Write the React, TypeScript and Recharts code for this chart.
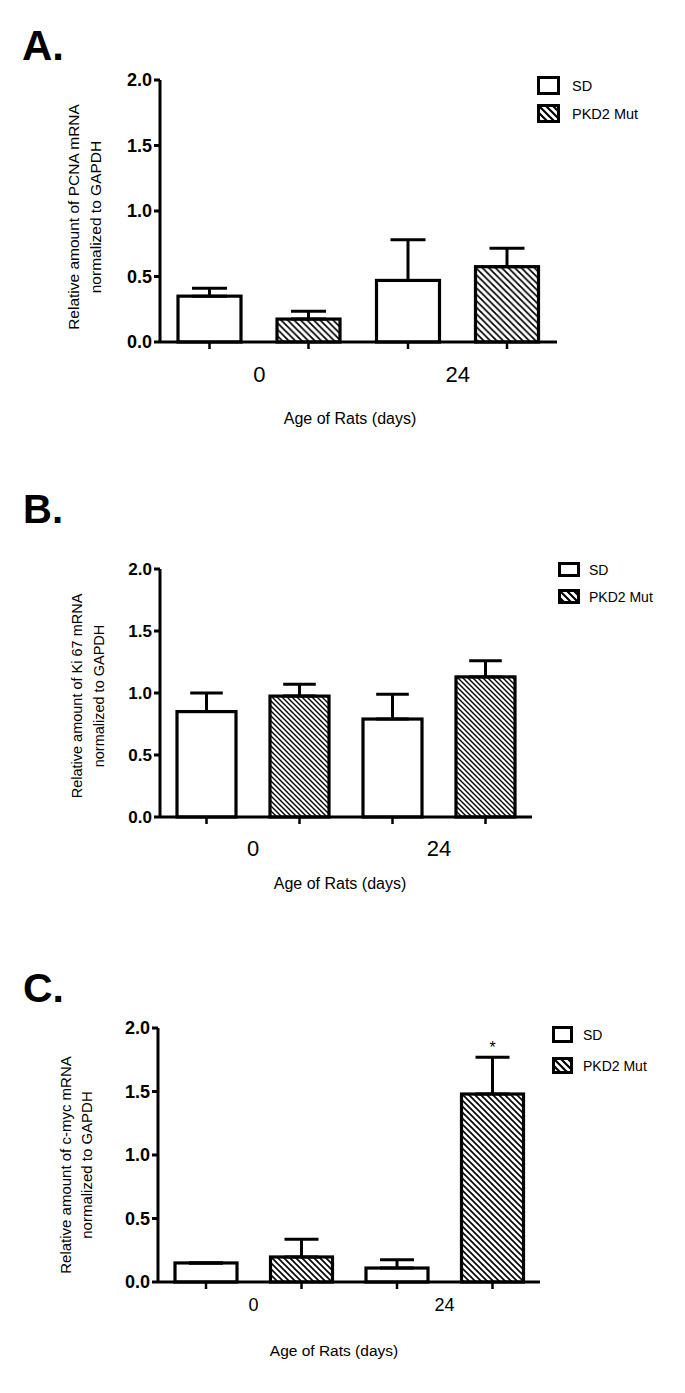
import React from 'react';
import { BarChart, Bar, XAxis, YAxis, ErrorBar, Legend, LabelList } from 'recharts';

// ---------- data ----------
const ages = ['0', '24'];
const seriesNames = ['SD', 'PKD2 Mut'];
const yTicks = [0, 0.5, 1.0, 1.5, 2.0];
const xTitle = 'Age of Rats (days)';

const pcnaSD = [0.35, 0.47];
const pcnaSDErr = [0.06, 0.31];
const pcnaPKD = [0.175, 0.575];
const pcnaPKDErr = [0.06, 0.14];
const pcnaSig = ['', ''];

const ki67SD = [0.85, 0.79];
const ki67SDErr = [0.15, 0.2];
const ki67PKD = [0.975, 1.13];
const ki67PKDErr = [0.095, 0.13];
const ki67Sig = ['', ''];

const cmycSD = [0.15, 0.11];
const cmycSDErr = [0, 0.065];
const cmycPKD = [0.197, 1.48];
const cmycPKDErr = [0.14, 0.29];
const cmycSig = ['', '*'];

const FONT = '"Liberation Sans", Arial, Helvetica, sans-serif';

const makeData = (sd: number[], sdErr: number[], pkd: number[], pkdErr: number[]) =>
  ages.map((age, i) => ({
    age,
    sd: sd[i],
    sdErr: [0, sdErr[i]],
    pkd: pkd[i],
    pkdErr: [0, pkdErr[i]],
  }));

const panels = [
  {
    id: 'A',
    letter: 'A.',
    data: makeData(pcnaSD, pcnaSDErr, pcnaPKD, pcnaPKDErr),
    pkdVals: pcnaPKD,
    pkdErrs: pcnaPKDErr,
    sig: pcnaSig,
    yLabel: ['Relative amount of PCNA mRNA', 'normalized to GAPDH'],
    top: 0, height: 460,
    plotLeft: 160, plotRight: 557, plotTop: 80, plotBottom: 342,
    yLabX: [73, 95], yLabCY: 217, yLabFont: 15.5,
    yTickFont: 18,
    xTickDy: 32, xTickFont: 22,
    xTitleX: 350, xTitleY: 418, xTitleFont: 16,
    letterX: 22, letterBase: 60, letterSize: 42,
    leg: { left: 537, top: 76, w: 23, h: 19, pitch: 28, gap: 12, font: 14.5 },
    barSize: 63, barGap: 36, capHalf: 17.5, hatch: 'hatchA',
  },
  {
    id: 'B',
    letter: 'B.',
    data: makeData(ki67SD, ki67SDErr, ki67PKD, ki67PKDErr),
    pkdVals: ki67PKD,
    pkdErrs: ki67PKDErr,
    sig: ki67Sig,
    yLabel: ['Relative amount of Ki 67 mRNA', 'normalized to GAPDH'],
    top: 460, height: 460,
    plotLeft: 160, plotRight: 532, plotTop: 109, plotBottom: 357,
    yLabX: [77, 99], yLabCY: 236, yLabFont: 14.5,
    yTickFont: 17,
    xTickDy: 31, xTickFont: 22,
    xTitleX: 340, xTitleY: 423, xTitleFont: 16,
    letterX: 23, letterBase: 63, letterSize: 40,
    leg: { left: 558, top: 102, w: 22, h: 15, pitch: 27, gap: 9, font: 14 },
    barSize: 59, barGap: 34, capHalf: 16.3, hatch: 'hatchB',
  },
  {
    id: 'C',
    letter: 'C.',
    data: makeData(cmycSD, cmycSDErr, cmycPKD, cmycPKDErr),
    pkdVals: cmycPKD,
    pkdErrs: cmycPKDErr,
    sig: cmycSig,
    yLabel: ['Relative amount of c-myc mRNA', 'normalized to GAPDH'],
    top: 920, height: 473,
    plotLeft: 158, plotRight: 540, plotTop: 108, plotBottom: 362,
    yLabX: [65, 86], yLabCY: 245, yLabFont: 15,
    yTickFont: 18,
    xTickDy: 23, xTickFont: 18,
    xTitleX: 334, xTitleY: 430, xTitleFont: 15.5,
    letterX: 23, letterBase: 82, letterSize: 41,
    leg: { left: 552, top: 106, w: 21, h: 17, pitch: 31, gap: 10, font: 14 },
    barSize: 62, barGap: 33.5, capHalf: 17, hatch: 'hatchC',
  },
];

const Y_AXIS_W = 60;
const X_AXIS_H = 30;

const HatchDefs = () => (
  <svg width={0} height={0} style={{ position: 'absolute', left: 0, top: 0 }}>
    <defs>
      <pattern id="hatchA" patternUnits="userSpaceOnUse" width={6.5} height={6.5}>
        <path d="M-1,-1 L7.5,7.5 M-1,5.5 L1,7.5 M5.5,-1 L7.5,1" stroke="#000" strokeWidth={1.7} />
      </pattern>
      <pattern id="hatchB" patternUnits="userSpaceOnUse" width={5} height={5}>
        <path d="M-1,-1 L6,6 M-1,4 L1,6 M4,-1 L6,1" stroke="#000" strokeWidth={1.4} />
      </pattern>
      <pattern id="hatchC" patternUnits="userSpaceOnUse" width={6} height={6}>
        <path d="M-1,-1 L7,7 M-1,5 L1,7 M5,-1 L7,1" stroke="#000" strokeWidth={1.6} />
      </pattern>
      <pattern id="hatchLeg" patternUnits="userSpaceOnUse" width={7} height={7}>
        <path d="M-1,-1 L8,8 M-1,6 L1,8 M6,-1 L8,1" stroke="#000" strokeWidth={2.2} />
      </pattern>
    </defs>
  </svg>
);

const BarShape = (props: any) => {
  const { x, y, width, height, fill } = props;
  if (x == null || width == null) return null;
  const base = y + height;
  return (
    <g>
      <rect x={x} y={y} width={width} height={height} fill={fill} stroke="#000" strokeWidth={3.2} />
      <line x1={x + width / 2} x2={x + width / 2} y1={base} y2={base + 7} stroke="#000" strokeWidth={2.5} />
    </g>
  );
};

const Panel = ({ p }: { p: (typeof panels)[number] }) => {
  const W = 685;
  const margin = {
    top: p.plotTop,
    left: p.plotLeft - Y_AXIS_W,
    right: W - p.plotRight,
    bottom: p.height - p.plotBottom - X_AXIS_H,
  };
  const legWrapTop = p.leg.top - (p.leg.pitch - p.leg.h) / 2;

  const XTick = (tp: any) => (
    <text
      x={tp.x}
      y={tp.y + p.xTickDy}
      textAnchor="middle"
      dominantBaseline="central"
      fontSize={p.xTickFont}
      fontFamily={FONT}
      fill="#000"
    >
      {tp.payload.value}
    </text>
  );

  const YTitle = () => (
    <g>
      {p.yLabel.map((line, i) => (
        <text
          key={i}
          x={p.yLabX[i]}
          y={p.yLabCY}
          transform={`rotate(-90, ${p.yLabX[i]}, ${p.yLabCY})`}
          textAnchor="middle"
          dominantBaseline="central"
          fontSize={p.yLabFont}
          fontFamily={FONT}
          fill="#000"
        >
          {line}
        </text>
      ))}
    </g>
  );

  const XTitle = () => (
    <text
      x={p.xTitleX}
      y={p.xTitleY}
      textAnchor="middle"
      dominantBaseline="central"
      fontSize={p.xTitleFont}
      fontFamily={FONT}
      fill="#000"
    >
      {xTitle}
    </text>
  );

  const LegendContent = (lp: any) => {
    const payload = (lp.payload || []) as any[];
    const items = seriesNames.map((n) => payload.find((it: any) => it.value === n) || { value: n });
    return (
      <div style={{ fontFamily: FONT, fontSize: p.leg.font, color: '#000' }}>
        {items.map((it: any, i: number) => (
          <div key={i} style={{ display: 'flex', alignItems: 'center', height: p.leg.pitch }}>
            <svg width={p.leg.w} height={p.leg.h} style={{ display: 'block' }}>
              <rect
                x={1.5}
                y={1.5}
                width={p.leg.w - 3}
                height={p.leg.h - 3}
                fill={it.value === seriesNames[0] ? '#fff' : 'url(#hatchLeg)'}
                stroke="#000"
                strokeWidth={3}
              />
            </svg>
            <span style={{ marginLeft: p.leg.gap, whiteSpace: 'nowrap' }}>{it.value}</span>
          </div>
        ))}
      </div>
    );
  };

  const SigLabel = (lp: any) => {
    const { x, y, width, height, index } = lp;
    const mark = p.sig[index];
    if (!mark) return null;
    const errPx = (height * p.pkdErrs[index]) / p.pkdVals[index];
    return (
      <text
        x={x + width / 2}
        y={y - errPx - 4}
        textAnchor="middle"
        fontSize={16}
        fontFamily={FONT}
        fill="#000"
      >
        {mark}
      </text>
    );
  };

  return (
    <div style={{ position: 'absolute', left: 0, top: p.top, width: W, height: p.height }}>
      <svg
        width={W}
        height={p.height}
        style={{ position: 'absolute', left: 0, top: 0, pointerEvents: 'none' }}
      >
        <text
          x={p.letterX}
          y={p.letterBase}
          fontSize={p.letterSize}
          fontWeight="bold"
          fontFamily={FONT}
          fill="#000"
        >
          {p.letter}
        </text>
      </svg>
      <div style={{ position: 'absolute', left: 0, top: 0 }}>
        <BarChart
          width={W}
          height={p.height}
          data={p.data}
          margin={margin}
          barSize={p.barSize}
          barGap={p.barGap}
        >
          <XAxis
            dataKey="age"
            height={X_AXIS_H}
            tickLine={false}
            tickSize={0}
            tickMargin={0}
            axisLine={{ stroke: '#000', strokeWidth: 3 }}
            tick={<XTick />}
            label={<XTitle />}
            interval={0}
          />
          <YAxis
            width={Y_AXIS_W}
            domain={[0, 2]}
            ticks={yTicks}
            interval={0}
            tickFormatter={(v: number) => v.toFixed(1)}
            tickSize={6}
            tickMargin={2}
            tickLine={{ stroke: '#000', strokeWidth: 3 }}
            axisLine={{ stroke: '#000', strokeWidth: 3 }}
            tick={{ fontSize: p.yTickFont, fontWeight: 'bold', fill: '#000', fontFamily: FONT }}
            label={<YTitle />}
          />
          <Legend
            layout="vertical"
            align="center"
            verticalAlign="middle"
            wrapperStyle={{ left: p.leg.left, top: legWrapTop, width: 'auto' }}
            content={<LegendContent />}
          />
          <Bar
            dataKey="sd"
            name={seriesNames[0]}
            fill="#fff"
            stroke="#000"
            shape={<BarShape />}
            isAnimationActive={false}
          >
            <ErrorBar
              dataKey="sdErr"
              width={p.capHalf}
              stroke="#000"
              strokeWidth={3}
              direction="y"
              isAnimationActive={false}
            />
          </Bar>
          <Bar
            dataKey="pkd"
            name={seriesNames[1]}
            fill={`url(#${p.hatch})`}
            stroke="#000"
            shape={<BarShape />}
            isAnimationActive={false}
          >
            <ErrorBar
              dataKey="pkdErr"
              width={p.capHalf}
              stroke="#000"
              strokeWidth={3}
              direction="y"
              isAnimationActive={false}
            />
            <LabelList dataKey="pkd" content={<SigLabel />} />
          </Bar>
        </BarChart>
      </div>
    </div>
  );
}

export default function App() {
  return (
    <div
      style={{
        position: 'absolute',
        left: 0,
        top: 0,
        width: 685,
        height: 1393,
        background: '#fff',
        overflow: 'hidden',
      }}
    >
      <HatchDefs />
      {panels.map((p) => (
        <Panel key={p.id} p={p} />
      ))}
    </div>
  );
}
